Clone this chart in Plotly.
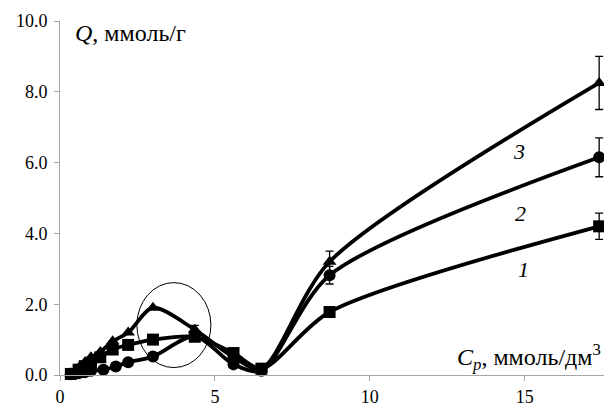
import plotly.graph_objects as go

# Data (Cp, mmol/dm3) and Q (mmol/g)
x1 = [0.35, 0.6, 0.8, 1.0, 1.3, 1.7, 2.2, 3.0, 4.35, 5.6, 6.5, 8.7, 17.4]
q1 = [0.03, 0.15, 0.25, 0.35, 0.5, 0.72, 0.85, 1.0, 1.08, 0.62, 0.18, 1.78, 4.2]
e1 = [0, 0, 0, 0, 0, 0, 0, 0, 0, 0, 0, 0, 0.37]

x2 = [0.35, 0.6, 0.8, 1.0, 1.4, 1.8, 2.2, 3.0, 4.35, 5.6, 6.5, 8.7, 17.4]
q2 = [0.02, 0.05, 0.08, 0.12, 0.15, 0.24, 0.36, 0.52, 1.1, 0.3, 0.12, 2.82, 6.15]
e2 = [0, 0, 0, 0, 0, 0, 0, 0, 0, 0, 0, 0.25, 0.55]

x3 = [0.35, 0.6, 0.8, 1.0, 1.3, 1.7, 2.2, 3.0, 4.35, 5.6, 6.5, 8.7, 17.4]
q3 = [0.05, 0.2, 0.35, 0.5, 0.65, 0.95, 1.2, 1.9, 1.28, 0.5, 0.18, 3.2, 8.25]
e3 = [0, 0, 0, 0, 0, 0, 0, 0, 0.12, 0, 0, 0.3, 0.75]

series = [
    (x1, q1, e1, "square", "1"),
    (x2, q2, e2, "circle", "2"),
    (x3, q3, e3, "triangle-up", "3"),
]

label_pos = {"1": (14.95, 2.98), "2": (14.85, 4.56), "3": (14.8, 6.3)}

x_ticks = [0, 5, 10, 15]
y_ticks = [0, 2, 4, 6, 8, 10]

FONT = "Liberation Serif"

fig = go.Figure()
for xs, ys, es, sym, name in series:
    fig.add_trace(go.Scatter(
        x=xs, y=ys, mode="lines+markers", name=name,
        line=dict(color="black", width=3.8, shape="spline", smoothing=0.8),
        marker=dict(symbol=sym, size=12, color="black"),
        error_y=dict(type="data", array=es, visible=True, color="black",
                     thickness=1.3, width=4),
        showlegend=False, cliponaxis=False,
    ))

for name, (lx, ly) in label_pos.items():
    fig.add_annotation(x=lx, y=ly, text=f"<i>{name}</i>", showarrow=False,
                       font=dict(family=FONT, size=22, color="black"))

fig.add_shape(type="circle", xref="x", yref="y", x0=2.48, x1=4.87, y0=0.21, y1=2.61,
              line=dict(color="black", width=1))

fig.add_annotation(xref="paper", yref="paper", x=(73 - 60) / 550, y=(375.5 - 33) / 354.5,
                   xanchor="left", yanchor="middle",
                   text="<i>Q</i>, ммоль/г", showarrow=False,
                   font=dict(family=FONT, size=24, color="black"))
fig.add_annotation(xref="paper", yref="paper", x=(455 - 60) / 550, y=(375.5 - 357) / 354.5,
                   xanchor="left", yanchor="middle",
                   text="<i>C<sub>p</sub></i>, ммоль/дм<sup>3</sup>", showarrow=False,
                   font=dict(family=FONT, size=24, color="black"))

# page body has an 8px default margin, so the figure is drawn 8px in from the top-left
fig.update_layout(
    width=604, height=401,
    margin=dict(l=52, r=2, t=13, b=33.5),
    paper_bgcolor="white", plot_bgcolor="white",
    font=dict(family=FONT, size=18, color="black"),
    xaxis=dict(range=[0, 17.75], tickvals=x_ticks, ticktext=[str(v) for v in x_ticks],
               showgrid=False, zeroline=False, showline=True, linecolor="#a6a6a6", linewidth=1,
               ticks="outside", ticklen=5, tickcolor="#a6a6a6", automargin=False,
               tickfont=dict(family=FONT, size=18, color="black")),
    yaxis=dict(range=[0, 10], tickvals=y_ticks, ticktext=[f"{v:.1f}" for v in y_ticks],
               showgrid=False, zeroline=False, showline=True, linecolor="#a6a6a6", linewidth=1,
               ticks="outside", ticklen=5, tickcolor="#a6a6a6", automargin=False,
               ticklabelstandoff=3,
               tickfont=dict(family=FONT, size=18, color="black")),
)

fig.write_html("out.html")
